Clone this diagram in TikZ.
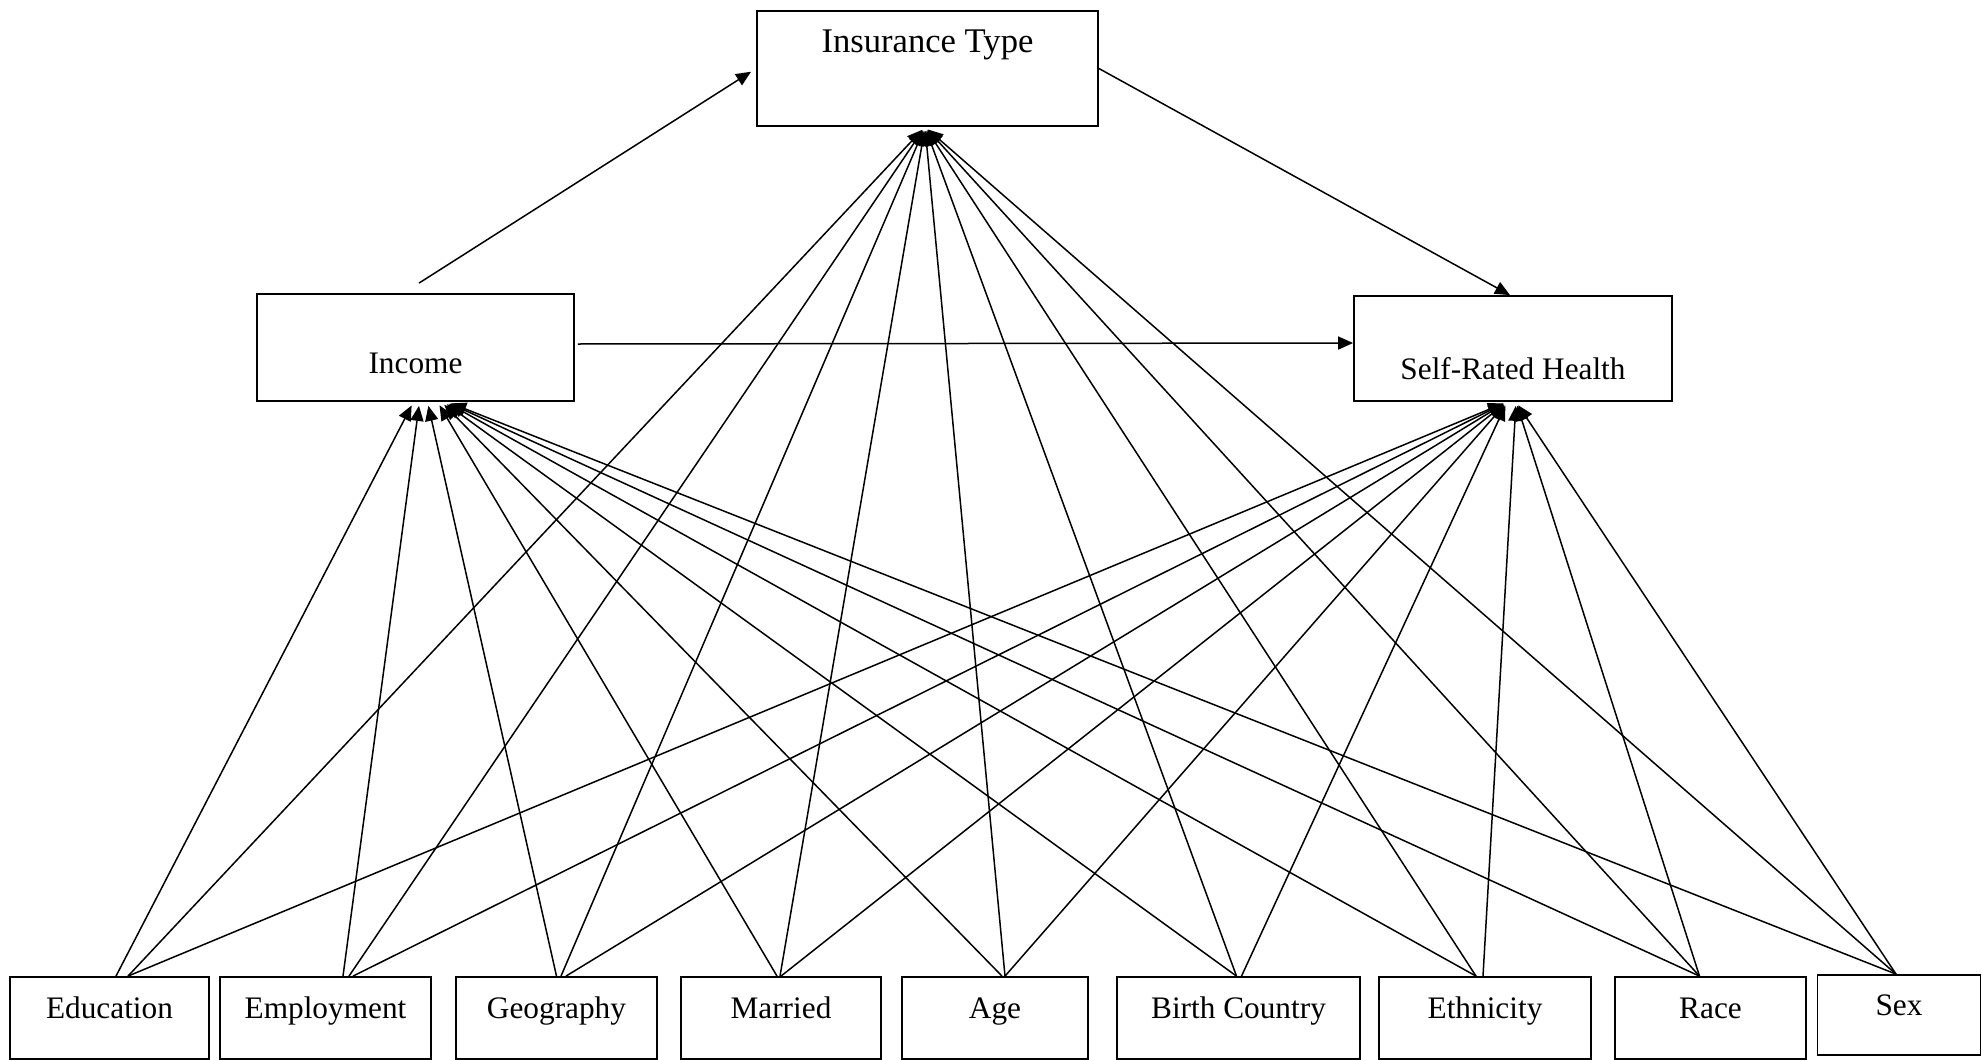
\documentclass[tikz,border=0pt]{standalone}
\usepackage{fontspec}
\setmainfont{Liberation Serif}
\usetikzlibrary{arrows.meta}
\newcommand{\lift}[2]{\raisebox{#1}[0pt][0pt]{#2}}

\begin{document}
\begin{tikzpicture}[x=0.5pt,y=-0.5pt,
  box/.style={draw,line width=0.9pt,inner sep=0pt,font=\fontsize{15.65}{18}\selectfont},
  arr/.style={-{Triangle[length=7.5pt,width=6.5pt]},line width=0.75pt,shorten >=2pt}]
\useasboundingbox (0,0) rectangle (1982,1060);
% 上层变量
\node[box,minimum width=170.5pt,minimum height=57.5pt,font=\fontsize{17.3}{20}\selectfont] (ins) at (927.5,68.5) {\lift{8.25pt}{Insurance Type}};
\node[box,minimum width=158.5pt,minimum height=53.5pt] (inc) at (415.5,347.5) {\lift{-12.75pt}{Income}};
\node[box,minimum width=159pt,minimum height=52.5pt] (srh) at (1513,348.5) {\lift{-15.25pt}{Self-Rated Health}};
% 底层变量
\node[box,minimum width=99.5pt,minimum height=41pt] (edu) at (109.5,1018) {\lift{0pt}{Education}};
\node[box,minimum width=105.5pt,minimum height=41pt] (emp) at (325.5,1018) {\lift{0pt}{Employment}};
\node[box,minimum width=100.5pt,minimum height=41pt] (geo) at (556.5,1018) {\lift{0pt}{Geography}};
\node[box,minimum width=100pt,minimum height=41pt] (mar) at (781,1018) {\lift{0pt}{Married}};
\node[box,minimum width=93pt,minimum height=41pt] (age) at (995,1018) {\lift{0pt}{Age}};
\node[box,minimum width=121.5pt,minimum height=41pt] (bc) at (1238.5,1018) {\lift{0pt}{Birth Country}};
\node[box,minimum width=106pt,minimum height=41pt] (eth) at (1485,1018) {\lift{0pt}{Ethnicity}};
\node[box,minimum width=95.5pt,minimum height=41pt] (race) at (1710.5,1018) {\lift{0pt}{Race}};
\node[box,minimum width=81.5pt,minimum height=40pt] (sex) at (1899,1015) {\lift{0pt}{Sex}};
% 上层箭头
\draw[arr,shorten >=3pt] ([xshift=1.75pt,yshift=5pt]inc.north) -- (ins.west);
\draw[arr,shorten >=0pt] (ins.east) -- ([xshift=-1.5pt]srh.north);
\draw[arr,shorten >=0pt] ([xshift=1.5pt,yshift=1.75pt]inc.east) -- ([yshift=2.75pt]srh.west);
% 底层箭头
\draw[arr] ([xshift=3.25pt]edu.north) -- ([xshift=-1pt]inc.south);
\draw[arr] ([xshift=9.25pt]edu.north) -- ([xshift=-1.25pt]ins.south);
\draw[arr] ([xshift=9.25pt]edu.north) -- ([xshift=-3pt]srh.south);
\draw[arr] ([xshift=8.75pt]emp.north) -- ([xshift=2pt]inc.south);
\draw[arr] ([xshift=11.75pt]emp.north) -- ([xshift=-1.25pt]ins.south);
\draw[arr] ([xshift=13.75pt]emp.north) -- ([xshift=-3pt]srh.south);
\draw[arr] (geo.north) -- ([xshift=6pt]inc.south);
\draw[arr] ([xshift=2.25pt]geo.north) -- ([xshift=-1.25pt]ins.south);
\draw[arr] ([xshift=4.75pt]geo.north) -- ([xshift=-3pt]srh.south);
\draw[arr] ([xshift=-2pt]mar.north) -- ([xshift=11pt]inc.south);
\draw[arr] ([xshift=-0.5pt]mar.north) -- ([xshift=-1.25pt]ins.south);
\draw[arr] (mar.north) -- ([xshift=-3pt]srh.south);
\draw[arr] ([xshift=3.5pt]age.north) -- ([xshift=13pt]inc.south);
\draw[arr] ([xshift=5pt]age.north) -- ([xshift=-1.25pt]ins.south);
\draw[arr] ([xshift=5pt]age.north) -- ([xshift=-3pt]srh.south);
\draw[arr] ([xshift=-1pt]bc.north) -- ([xshift=14pt]inc.south);
\draw[arr] ([xshift=-1pt]bc.north) -- ([xshift=-1.25pt]ins.south);
\draw[arr] ([xshift=1.5pt]bc.north) -- ([xshift=-3pt]srh.south);
\draw[arr] ([xshift=-4.5pt]eth.north) -- ([xshift=15pt]inc.south);
\draw[arr] ([xshift=-4.5pt]eth.north) -- ([xshift=-1.25pt]ins.south);
\draw[arr] ([xshift=-1pt]eth.north) -- ([xshift=1.5pt]srh.south);
\draw[arr] ([xshift=-5.5pt]race.north) -- ([xshift=15.5pt]inc.south);
\draw[arr] ([xshift=-5.5pt]race.north) -- ([xshift=-1.25pt]ins.south);
\draw[arr] ([xshift=-5.5pt]race.north) -- ([xshift=1.5pt]srh.south);
\draw[arr] ([xshift=-1.5pt]sex.north) -- ([xshift=16pt]inc.south);
\draw[arr] ([xshift=-1.5pt]sex.north) -- ([xshift=-1.25pt]ins.south);
\draw[arr] ([xshift=-1.5pt]sex.north) -- ([xshift=1.5pt]srh.south);
\end{tikzpicture}
\end{document}
